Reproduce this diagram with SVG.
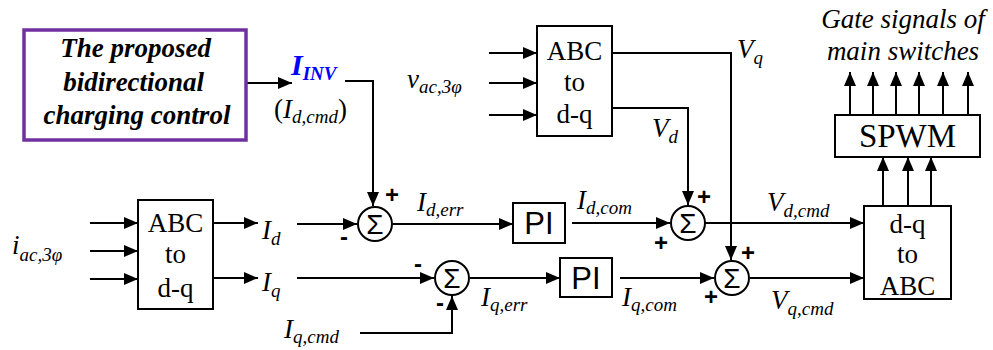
<svg xmlns="http://www.w3.org/2000/svg" width="993" height="350" viewBox="0 0 993 350">
<style>
.blk{fill:#fff;stroke:#000;stroke-width:2}
.ln{fill:none;stroke:#000;stroke-width:2}
.ar{marker-end:url(#ah)}
.t{font-family:"Liberation Serif","Times New Roman",serif;font-size:27px;fill:#000}
.i{font-family:"Liberation Serif","Times New Roman",serif;font-style:italic;font-size:27px;fill:#000}
.bi{font-family:"Liberation Serif","Times New Roman",serif;font-style:italic;font-weight:bold}
.sub{font-size:19px}
.pi{font-family:"Liberation Sans",Arial,sans-serif;font-size:31px;fill:#000}
.sg{font-family:"Liberation Sans",Arial,sans-serif;font-size:24px;font-weight:bold;fill:#000;text-anchor:middle}
.sum{fill:#fff;stroke:#000;stroke-width:2}
.sig{font-family:"Liberation Sans",Arial,sans-serif;font-size:28px;fill:#000;text-anchor:middle}
</style>
<defs>
<marker id="ah" markerUnits="userSpaceOnUse" markerWidth="15" markerHeight="13" refX="14" refY="6" orient="auto">
<path d="M0,0 L14,6 L0,12 z" fill="#000"/>
</marker>
</defs>

<g id="connectors">
<path class="ln ar" d="M246,83 H292"/>
<path class="ln ar" d="M345,81 H373 V206"/>
<path class="ln ar" d="M90,223 H138"/>
<path class="ln ar" d="M90,251 H138"/>
<path class="ln ar" d="M90,279 H138"/>
<path class="ln ar" d="M213,223 H258"/>
<path class="ln ar" d="M213,278 H258"/>
<path class="ln ar" d="M297,224 H357"/>
<path class="ln ar" d="M393,224 H513"/>
<path class="ln ar" d="M572,223 H670"/>
<path class="ln ar" d="M705,223 H864"/>
<path class="ln ar" d="M297,278 H434"/>
<path class="ln ar" d="M360,333 H452 V296"/>
<path class="ln ar" d="M470,278 H560"/>
<path class="ln ar" d="M620,278 H714"/>
<path class="ln ar" d="M750,278 H864"/>
<path class="ln ar" d="M489,53 H537"/>
<path class="ln ar" d="M489,83 H537"/>
<path class="ln ar" d="M489,115 H537"/>
<path class="ln ar" d="M612,108 H688 V205"/>
<path class="ln ar" d="M612,53 H731 V260"/>
<path class="ln ar" d="M883,206 V157"/>
<path class="ln ar" d="M908,206 V157"/>
<path class="ln ar" d="M931,206 V157"/>
<path class="ln ar" d="M850,115 V72"/>
<path class="ln ar" d="M873,115 V72"/>
<path class="ln ar" d="M896,115 V72"/>
<path class="ln ar" d="M919,115 V72"/>
<path class="ln ar" d="M943,115 V72"/>
<path class="ln ar" d="M968,115 V72"/>
</g>

<g id="control">
<rect x="24" y="30" width="222" height="110" fill="#fff" stroke="#7030A0" stroke-width="3.5"/>
<text class="bi" font-size="27" text-anchor="middle" fill="#000">
<tspan x="139" y="57">The proposed</tspan>
<tspan x="137" y="91">bidirectional</tspan>
<tspan x="137" y="124">charging control</tspan>
</text>
</g>

<g id="iinv">
<text x="291" y="75" class="bi" font-size="30" fill="#0000ff">I<tspan font-size="19" dy="5">INV</tspan></text>
<text x="274" y="118" class="t">(<tspan font-style="italic">I</tspan><tspan font-style="italic" class="sub" dy="5">d,cmd</tspan><tspan dy="-5">)</tspan></text>
</g>

<g id="abc1">
<rect class="blk" x="138" y="200" width="75" height="109"/>
<text class="t" text-anchor="middle"><tspan x="175.5" y="232">ABC</tspan><tspan x="175.5" y="263">to</tspan><tspan x="175.5" y="297">d-q</tspan></text>
</g>
<text class="i" x="12" y="254">i<tspan class="sub" dy="7">ac,3φ</tspan></text>
<text class="i" x="262" y="239">I<tspan class="sub" dy="6">d</tspan></text>
<text class="i" x="262" y="291">I<tspan class="sub" dy="6">q</tspan></text>

<g id="abc2">
<rect class="blk" x="537" y="26" width="75" height="110"/>
<text class="t" text-anchor="middle"><tspan x="574.5" y="60">ABC</tspan><tspan x="574.5" y="91">to</tspan><tspan x="574.5" y="123">d-q</tspan></text>
</g>
<text class="i" x="407" y="88">v<tspan class="sub" dy="5">ac,3φ</tspan></text>
<text class="i" x="737" y="58">V<tspan class="sub" dy="6">q</tspan></text>
<text class="i" x="652" y="137">V<tspan class="sub" dy="6">d</tspan></text>

<g id="sum1">
<circle class="sum" cx="375" cy="224" r="17"/>
<text class="sig" x="375" y="234">Σ</text>
<text class="sg" x="392" y="203">+</text>
<text class="sg" x="344" y="245">-</text>
</g>
<text class="i" x="417" y="211">I<tspan class="sub" dy="5">d,err</tspan></text>

<g id="pi1">
<rect class="blk" x="513" y="203" width="52" height="40"/>
<text class="pi" x="539" y="234" text-anchor="middle">PI</text>
</g>
<text class="i" x="577" y="209">I<tspan class="sub" dy="5">d,com</tspan></text>

<g id="sum2">
<circle class="sum" cx="688" cy="223" r="17"/>
<text class="sig" x="688" y="233">Σ</text>
<text class="sg" x="704" y="205">+</text>
<text class="sg" x="661" y="251">+</text>
</g>
<text class="i" x="767" y="211">V<tspan class="sub" dy="6">d,cmd</tspan></text>

<g id="sum4">
<circle class="sum" cx="452" cy="278" r="17"/>
<text class="sig" x="452" y="288">Σ</text>
<text class="sg" x="418" y="272">-</text>
<text class="sg" x="440" y="311">-</text>
</g>
<text class="i" x="481" y="306">I<tspan class="sub" dy="5">q,err</tspan></text>
<text class="i" x="284" y="338">I<tspan class="sub" dy="5">q,cmd</tspan></text>

<g id="pi2">
<rect class="blk" x="560" y="258" width="52" height="39"/>
<text class="pi" x="586" y="289" text-anchor="middle">PI</text>
</g>
<text class="i" x="622" y="306">I<tspan class="sub" dy="5">q,com</tspan></text>

<g id="sum3">
<circle class="sum" cx="732" cy="278" r="17"/>
<text class="sig" x="732" y="288">Σ</text>
<text class="sg" x="748" y="261">+</text>
<text class="sg" x="711" y="305">+</text>
</g>
<text class="i" x="771" y="309">V<tspan class="sub" dy="6">q,cmd</tspan></text>

<g id="dq2abc">
<rect class="blk" x="864" y="206" width="87" height="93"/>
<text class="t" text-anchor="middle"><tspan x="907.5" y="233">d-q</tspan><tspan x="907.5" y="263">to</tspan><tspan x="907.5" y="295">ABC</tspan></text>
</g>

<g id="spwm">
<rect class="blk" x="835" y="115" width="145" height="42"/>
<text class="t" x="907.5" y="147" text-anchor="middle" style="font-size:33px">SPWM</text>
</g>

<g id="gates">
<text class="i" text-anchor="middle"><tspan x="903" y="28">Gate signals of</tspan><tspan x="903" y="60">main switches</tspan></text>
</g>
</svg>
